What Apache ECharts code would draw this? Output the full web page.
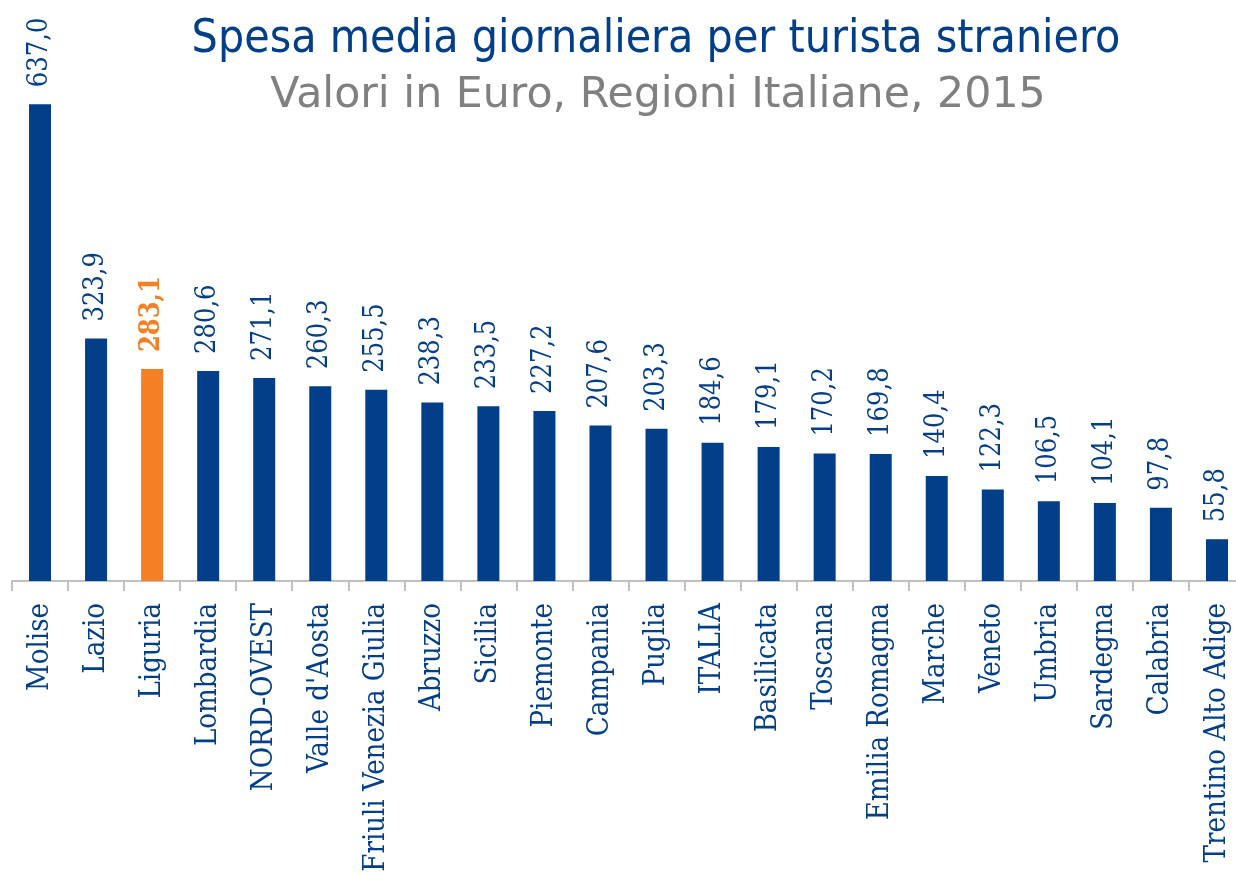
<!DOCTYPE html>
<html>
<head>
<meta charset="utf-8">
<title>Spesa media giornaliera per turista straniero</title>
<script src="https://cdn.jsdelivr.net/npm/echarts@6/dist/echarts.min.js"></script>
<style>
  html, body { margin: 0; padding: 0; background: #fff; }
  #chart { width: 1236px; height: 875px; }
</style>
</head>
<body>
<div id="chart"></div>
<script>
// dati: spesa media giornaliera (euro) per turista straniero, 2015
const regioni = [
  "Molise", "Lazio", "Liguria", "Lombardia", "NORD-OVEST", "Valle d'Aosta",
  "Friuli Venezia Giulia", "Abruzzo", "Sicilia", "Piemonte", "Campania", "Puglia",
  "ITALIA", "Basilicata", "Toscana", "Emilia Romagna", "Marche", "Veneto",
  "Umbria", "Sardegna", "Calabria", "Trentino Alto Adige"
];
const spesa = [
  637.0, 323.9, 283.1, 280.6, 271.1, 260.3,
  255.5, 238.3, 233.5, 227.2, 207.6, 203.3,
  184.6, 179.1, 170.2, 169.8, 140.4, 122.3,
  106.5, 104.1, 97.8, 55.8
];
const evidenziata = "Liguria";

const BLU = "#033f88";
const ARANCIO = "#f47f24";

const chart = echarts.init(document.getElementById("chart"));

const seriesData = spesa.map(function (v, i) {
  if (regioni[i] === evidenziata) {
    return {
      value: v,
      itemStyle: { color: ARANCIO },
      label: { color: ARANCIO, fontWeight: "bold" }
    };
  }
  return v;
});

const option = {
  animation: false,
  backgroundColor: "#fff",
  title: [
    {
      text: "Spesa media giornaliera per turista straniero",
      left: 651,
      textAlign: "center",
      top: 12,
      textStyle: {
        fontFamily: "DejaVu Sans Condensed",
        fontWeight: "normal",
        fontSize: 46,
        color: BLU
      }
    },
    {
      text: "Valori in Euro, Regioni Italiane, 2015",
      left: 653,
      textAlign: "center",
      top: 69,
      textStyle: {
        fontFamily: "DejaVu Sans",
        fontWeight: "normal",
        fontSize: 42.7,
        color: "#808080"
      }
    }
  ],
  grid: {
    left: 12,
    width: 1233,
    top: 57,
    bottom: 294,
    containLabel: false,
    outerBoundsMode: "none"
  },
  xAxis: {
    type: "category",
    data: regioni,
    axisLine: { show: true, lineStyle: { color: "#c0c0c0", width: 2 } },
    axisTick: {
      show: true,
      alignWithLabel: false,
      interval: 0,
      length: 10,
      lineStyle: { color: "#c0c0c0", width: 2 }
    },
    axisLabel: {
      interval: 0,
      rotate: 90,
      margin: 22,
      fontFamily: "DejaVu Serif Condensed",
      fontSize: 29,
      color: BLU
    }
  },
  yAxis: {
    type: "value",
    min: 0,
    max: 700,
    show: false,
    splitLine: { show: false }
  },
  series: [
    {
      type: "bar",
      data: seriesData,
      barWidth: 22,
      itemStyle: { color: BLU },
      label: {
        show: true,
        position: "top",
        rotate: 90,
        align: "left",
        verticalAlign: "middle",
        distance: 17,
        fontFamily: "DejaVu Serif Condensed",
        fontSize: 27,
        color: BLU,
        formatter: function (p) {
          return p.value.toFixed(1).replace(".", ",");
        }
      }
    }
  ]
};

chart.setOption(option);
</script>
</body>
</html>
